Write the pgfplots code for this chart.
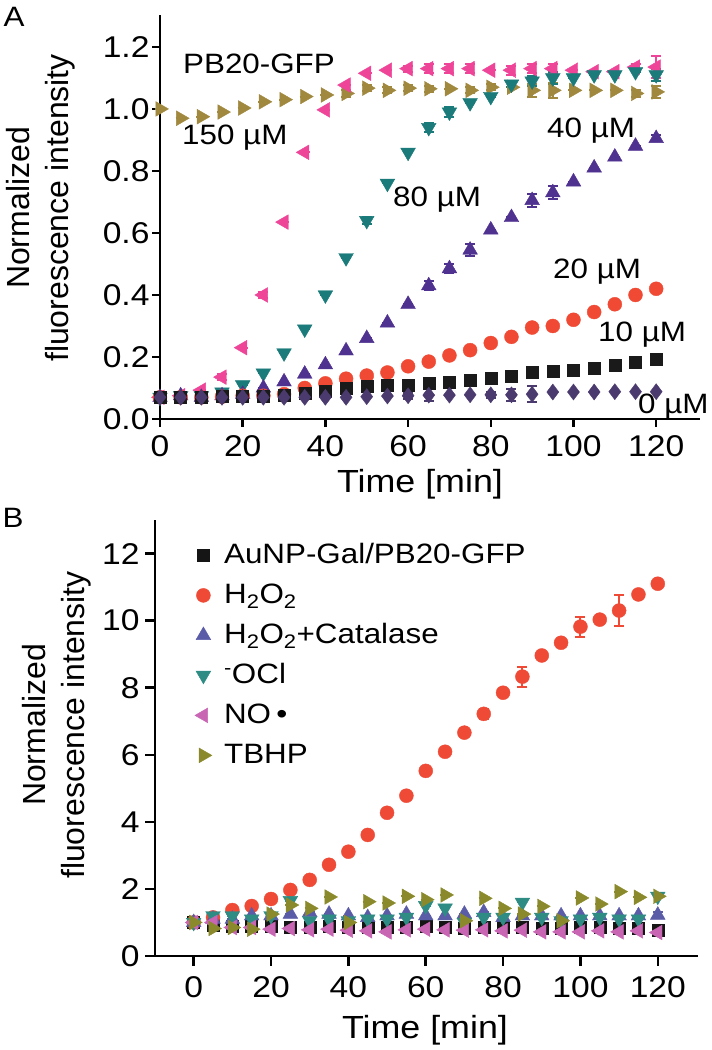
\documentclass[border=0pt]{standalone}
\usepackage{fontspec}
\setmainfont{Liberation Sans}
\usepackage{graphicx}
\usepackage{pgfplots}
\usepackage{pgfplotstable}
\pgfplotsset{compat=1.18}

\definecolor{cZero}{HTML}{4A3A6E}
\definecolor{cTen}{HTML}{1A1A1A}
\definecolor{cTwenty}{HTML}{F04A35}
\definecolor{cForty}{HTML}{4F3190}
\definecolor{cEighty}{HTML}{1B7A7A}
\definecolor{cOneFifty}{HTML}{EE4599}
\definecolor{cGFP}{HTML}{A0883E}
\definecolor{bBlack}{HTML}{151515}
\definecolor{bRed}{HTML}{EF4A36}
\definecolor{bBlue}{HTML}{5B5CA8}
\definecolor{bTeal}{HTML}{2F8C85}
\definecolor{bPink}{HTML}{C966B4}
\definecolor{bOlive}{HTML}{8A8A2C}

% ---------------- Panel A data ----------------
\pgfplotstableread{
t y e
0 0.07 0
5 0.07 0
10 0.07 0
15 0.07 0
20 0.07 0
25 0.07 0
30 0.07 0
35 0.07 0
40 0.07 0
45 0.07 0
50 0.072 0
55 0.074 0
60 0.075 0.01
65 0.077 0.02
70 0.077 0
75 0.078 0
80 0.078 0.01
85 0.078 0.02
90 0.08 0.025
95 0.087 0
100 0.087 0
105 0.087 0
110 0.088 0
115 0.088 0
120 0.088 0
}\tabAzero
\pgfplotstableread{
t y e
0 0.07 0
5 0.07 0
10 0.07 0
15 0.072 0
20 0.075 0
25 0.075 0
30 0.078 0
35 0.082 0.005
40 0.09 0.005
45 0.10 0.005
50 0.105 0
55 0.108 0
60 0.11 0
65 0.115 0
70 0.12 0
75 0.126 0
80 0.132 0
85 0.139 0
90 0.15 0
95 0.155 0
100 0.156 0
105 0.165 0
110 0.172 0
115 0.184 0
120 0.193 0
}\tabAten
\pgfplotstableread{
t y e
0 0.07 0
5 0.07 0
10 0.07 0
15 0.072 0
20 0.075 0
25 0.075 0
30 0.08 0
35 0.10 0
40 0.115 0
45 0.13 0
50 0.14 0
55 0.15 0
60 0.17 0
65 0.185 0
70 0.205 0
75 0.222 0
80 0.245 0
85 0.265 0.01
90 0.295 0
95 0.30 0
100 0.32 0
105 0.345 0
110 0.37 0
115 0.40 0
120 0.42 0
}\tabAtwenty
\pgfplotstableread{
t y e
0 0.07 0
5 0.075 0
10 0.07 0
15 0.075 0
20 0.08 0
25 0.10 0
30 0.12 0
35 0.145 0
40 0.175 0
45 0.22 0
50 0.26 0
55 0.31 0
60 0.37 0
65 0.43 0.015
70 0.485 0.015
75 0.545 0.02
80 0.61 0
85 0.65 0
90 0.705 0.02
95 0.73 0.02
100 0.765 0
105 0.81 0
110 0.845 0
115 0.88 0
120 0.905 0.01
}\tabAforty
\pgfplotstableread{
t y e
0 0.07 0
5 0.075 0
10 0.075 0
15 0.087 0
20 0.11 0
25 0.148 0
30 0.213 0
35 0.29 0
40 0.40 0
45 0.52 0
50 0.64 0.01
55 0.76 0
60 0.86 0
65 0.94 0.015
70 0.99 0.015
75 1.02 0
80 1.04 0
85 1.08 0.01
90 1.09 0.015
95 1.10 0.02
100 1.10 0
105 1.11 0
110 1.11 0
115 1.12 0
120 1.11 0.02
}\tabAeighty
\pgfplotstableread{
t y e
0 0.07 0
5 0.075 0
10 0.093 0
15 0.135 0.01
20 0.23 0
25 0.40 0.01
30 0.635 0
35 0.86 0
40 0.997 0
45 1.077 0
50 1.115 0
55 1.125 0
60 1.13 0.01
65 1.13 0.015
70 1.13 0.015
75 1.13 0.015
80 1.125 0
85 1.125 0.015
90 1.13 0.015
95 1.13 0.015
100 1.125 0
105 1.12 0
110 1.12 0
115 1.135 0.01
120 1.135 0.035
}\tabAonefifty
\pgfplotstableread{
t y e
0 1.00 0
5 0.97 0
10 0.975 0
15 0.99 0
20 1.003 0
25 1.023 0
30 1.03 0
35 1.04 0
40 1.045 0
45 1.05 0.01
50 1.067 0.01
55 1.06 0.01
60 1.067 0.01
65 1.065 0.01
70 1.065 0
75 1.06 0.01
80 1.07 0.01
85 1.07 0
90 1.06 0.02
95 1.06 0.025
100 1.06 0
105 1.06 0
110 1.06 0
115 1.05 0.01
120 1.055 0.02
}\tabAgfp

% ---------------- Panel B data ----------------
\pgfplotstableread{
t y e
0 1.0 0
5 0.92 0
10 0.9 0
15 0.9 0
20 0.88 0
25 0.87 0
30 0.85 0
35 0.88 0
40 0.87 0
45 0.85 0
50 0.86 0
55 0.87 0
60 0.88 0
65 0.86 0
70 0.82 0
75 0.85 0
80 0.85 0
85 0.86 0
90 0.84 0
95 0.83 0
100 0.86 0
105 0.85 0
110 0.84 0
115 0.82 0
120 0.78 0
}\tabBblack
\pgfplotstableread{
t y e
0 1.0 0
5 1.15 0
10 1.37 0
15 1.49 0
20 1.70 0
25 1.97 0
30 2.27 0
35 2.72 0
40 3.11 0
45 3.61 0
50 4.27 0
55 4.78 0
60 5.52 0
65 6.09 0
70 6.66 0
75 7.22 0.15
80 7.85 0
85 8.33 0.3
90 8.96 0
95 9.34 0
100 9.82 0.3
105 10.03 0
110 10.3 0.45
115 10.78 0
120 11.1 0
}\tabBred
\pgfplotstableread{
t y e
0 1.0 0
5 1.1 0
10 1.1 0
15 1.2 0
20 1.2 0
25 1.25 0
30 1.3 0
35 1.25 0
40 1.2 0
45 1.15 0
50 1.2 0
55 1.25 0
60 1.2 0
65 1.2 0
70 1.25 0
75 1.3 0
80 1.15 0
85 1.2 0
90 1.2 0
95 1.2 0
100 1.2 0
105 1.2 0
110 1.2 0
115 1.2 0
120 1.22 0.1
}\tabBblue
\pgfplotstableread{
t y e
0 1.0 0
5 1.2 0
10 1.2 0
15 1.1 0
20 1.2 0
25 1.65 0
30 1.05 0
35 1.1 0
40 1.05 0
45 1.1 0
50 1.1 0
55 1.15 0
60 1.5 0
65 1.43 0
70 1.0 0
75 1.15 0
80 1.15 0
85 1.6 0
90 1.15 0
95 1.05 0
100 1.1 0
105 1.15 0
110 1.1 0
115 1.1 0
120 1.78 0
}\tabBteal
\pgfplotstableread{
t y e
0 1.0 0
5 1.0 0.1
10 0.85 0
15 0.85 0
20 0.8 0
25 0.82 0
30 0.78 0
35 0.8 0
40 0.77 0
45 0.75 0
50 0.72 0
55 0.78 0
60 0.8 0
65 0.78 0
70 0.77 0
75 0.78 0
80 0.75 0
85 0.77 0
90 0.72 0
95 0.72 0
100 0.72 0
105 0.75 0
110 0.72 0
115 0.75 0
120 0.7 0
}\tabBpink
\pgfplotstableread{
t y e
0 1.0 0
5 0.82 0
10 0.85 0
15 0.8 0
20 1.25 0
25 1.52 0
30 1.42 0
35 1.76 0
40 1.0 0
45 1.62 0
50 1.58 0
55 1.78 0
60 1.68 0
65 1.82 0
70 1.05 0
75 1.72 0
80 1.42 0
85 1.25 0
90 1.48 0
95 1.05 0
100 1.73 0
105 1.55 0
110 1.92 0
115 1.75 0
120 1.78 0
}\tabBolive

\newcommand{\hs}[1]{\scalebox{1.12}[1]{#1}}

\pgfplotsset{
  myax/.style={
    scale only axis, clip=false,
    axis x line=bottom, axis y line=left,
    axis line style={-, line width=2.5pt, black},
    tick style={line width=2.5pt, black},
    tick align=outside, major tick length=8pt,
    /pgf/number format/assume math mode=true,
    ticklabel style={font=\fontsize{30}{34}\selectfont},
    xticklabel={\hs{\pgfmathprintnumber{\tick}}},
  },
  ebar/.style={error bars/.cd, y dir=both, y explicit,
    error bar style={line width=2pt},
    error mark options={rotate=90, line width=2pt, mark size=5pt}},
}

\newcommand{\lab}{\fontsize{32}{39}\selectfont}
\newcommand{\ann}{\fontsize{28}{32}\selectfont}

\begin{document}
\begin{tikzpicture}[x=1pt,y=1pt]
\useasboundingbox (0pt,0pt) rectangle (712pt,1050pt);

% ================= Panel A =================
\begin{axis}[myax,
  at={(160pt,631pt)}, anchor=south west,
  width=540pt, height=404pt,
  xmin=0, xmax=130.6, ymin=0, ymax=1.303,
  xtick={0,20,...,120},
  ytick={0,0.2,...,1.2},
  yticklabel={\hs{\pgfmathprintnumber[fixed,fixed zerofill,precision=1]{\tick}}},
  xticklabel style={yshift=-5pt},
  yticklabel style={xshift=1pt},
]
\addplot[only marks, mark=triangle*, mark size=8.5pt, mark options={rotate=-90}, color=cGFP, ebar] table[x=t,y=y,y error=e]{\tabAgfp};
\addplot[only marks, mark=triangle*, mark size=8.5pt, mark options={rotate=90}, color=cOneFifty, ebar] table[x=t,y=y,y error=e]{\tabAonefifty};
\addplot[only marks, mark=triangle*, mark size=8.5pt, mark options={rotate=180}, color=cEighty, ebar] table[x=t,y=y,y error=e]{\tabAeighty};
\addplot[only marks, mark=triangle*, mark size=8.5pt, color=cForty, ebar] table[x=t,y=y,y error=e]{\tabAforty};
\addplot[only marks, mark=*, mark size=7pt, color=cTwenty, ebar] table[x=t,y=y,y error=e]{\tabAtwenty};
\addplot[only marks, mark=square*, mark size=6pt, color=cTen, ebar] table[x=t,y=y,y error=e]{\tabAten};
\addplot[only marks, mark=diamond*, mark size=8pt, color=cZero, ebar] table[x=t,y=y,y error=e]{\tabAzero};
\end{axis}

% ================= Panel B =================
\begin{axis}[myax,
  at={(155pt,94pt)}, anchor=south west,
  width=543pt, height=436pt,
  xmin=-10, xmax=130.4, ymin=0, ymax=13,
  xtick={0,20,...,120},
  ytick={0,2,...,12},
  yticklabel={\hs{\pgfmathprintnumber{\tick}}},
  major tick length=10pt,
  xticklabel style={yshift=-7pt},
  yticklabel style={xshift=-2pt},
  legend style={at={(0.0727,0.956)}, anchor=north west, draw=none, fill=none,
    font=\fontsize{28}{30}\selectfont, row sep=8pt, inner sep=0pt,
    nodes={inner sep=2pt, text height=22pt, text depth=6pt}},
  legend cell align=left,
  legend image code/.code={\draw[mark repeat=2,mark phase=2,#1] plot coordinates {(0cm,0cm) (0.3cm,0cm) (1.0cm,0cm)}; \path (0cm,0cm) (0.95cm,0cm);},
]
\addplot[only marks, mark=square*, mark size=6pt, color=bBlack, ebar] table[x=t,y=y,y error=e]{\tabBblack};
\addlegendentry{\hs{AuNP-Gal/PB20-GFP}}
\addplot[only marks, mark=*, mark size=7pt, color=bRed, ebar] table[x=t,y=y,y error=e]{\tabBred};
\addlegendentry{\hs{H\textsubscript{2}O\textsubscript{2}}}
\addplot[only marks, mark=triangle*, mark size=8.5pt, color=bBlue, ebar] table[x=t,y=y,y error=e]{\tabBblue};
\addlegendentry{\hs{H\textsubscript{2}O\textsubscript{2}+Catalase}}
\addplot[only marks, mark=triangle*, mark size=8.5pt, mark options={rotate=180}, color=bTeal, ebar] table[x=t,y=y,y error=e]{\tabBteal};
\addlegendentry{\hs{\textsuperscript{-}OCl}}
\addplot[only marks, mark=triangle*, mark size=8.5pt, mark options={rotate=90}, color=bPink, ebar] table[x=t,y=y,y error=e]{\tabBpink};
\addlegendentry{\hs{NO\,•}}
\addplot[only marks, mark=triangle*, mark size=8.5pt, mark options={rotate=-90}, color=bOlive, ebar] table[x=t,y=y,y error=e]{\tabBolive};
\addlegendentry{\hs{TBHP}}
\end{axis}

% ================= Text =================
\node[font=\ann] at (14pt,1033pt) {\hs{A}};
\node[font=\ann] at (13pt,532pt) {\hs{B}};
\node[font=\lab, rotate=90, align=center] at (41pt,842pt) {Normalized\\fluorescence intensity};
\node[font=\lab, rotate=90, align=center] at (57pt,325pt) {Normalized\\fluorescence intensity};
\node[font=\lab] at (420pt,566pt) {\hs{Time [min]}};
\node[font=\lab] at (425pt,20pt) {\hs{Time [min]}};

\node[font=\ann, anchor=west, inner sep=0pt] at (183pt,986pt) {\hs{PB20-GFP}};
\node[font=\ann, anchor=west, inner sep=0pt] at (182pt,912pt) {\hs{150 µM}};
\node[font=\ann, anchor=west, inner sep=0pt] at (393pt,850pt) {\hs{80 µM}};
\node[font=\ann, anchor=west, inner sep=0pt] at (547pt,919pt) {\hs{40 µM}};
\node[font=\ann, anchor=west, inner sep=0pt] at (553pt,778pt) {\hs{20 µM}};
\node[font=\ann, anchor=west, inner sep=0pt] at (598pt,715pt) {\hs{10 µM}};
\node[font=\ann, anchor=west, inner sep=0pt] at (638pt,643pt) {\hs{0 µM}};
\end{tikzpicture}
\end{document}
